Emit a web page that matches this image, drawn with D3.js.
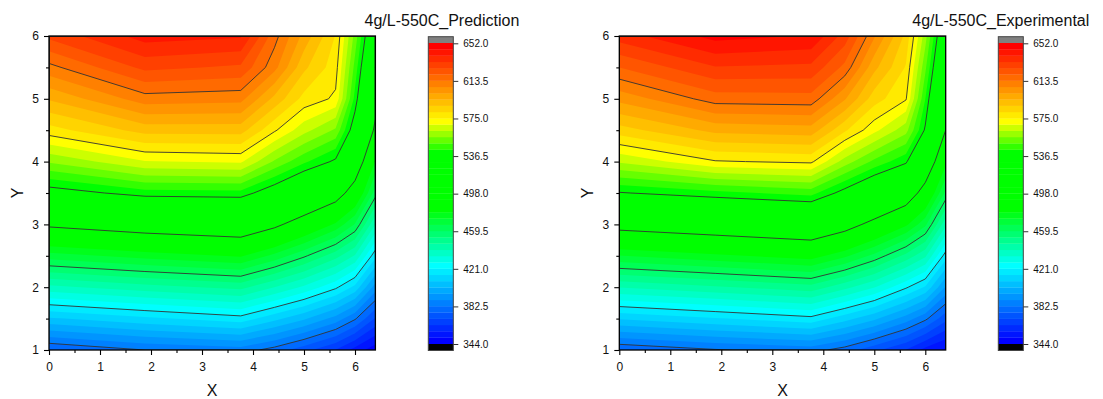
<!DOCTYPE html>
<html>
<head>
<meta charset="utf-8">
<script src="https://cdn.jsdelivr.net/npm/d3@7"></script>
<style>
  body { margin: 0; background: #fff; }
  text { font-family: "Liberation Sans", Arial, sans-serif; fill: #111; }
</style>
</head>
<body>
<svg id="chart" width="1103" height="399"></svg>
<script>
// grid nodes the values sit on
var xNodes = [0, 1.88, 3.76, 4.42, 5.0, 5.62, 6.0, 6.4];
var yNodes = [1, 1.5, 2, 2.5, 3, 3.5, 4, 4.5, 5, 5.5, 6];

// one row per yNode (Y=1 first), one value per xNode
var predRows = [
  [375.8, 382.5, 385.8, 379.7, 372.1, 363.0, 354.2, 346.5],
  [407.2, 413.1, 418.4, 410.3, 402.9, 392.8, 383.4, 369.0],
  [438.4, 444.0, 448.7, 440.2, 432.5, 422.4, 412.6, 392.2],
  [469.4, 475.0, 479.7, 470.4, 460.7, 449.3, 439.6, 416.6],
  [500.5, 506.8, 510.6, 501.4, 489.8, 477.4, 465.3, 440.3],
  [531.8, 539.9, 540.6, 529.9, 518.5, 506.1, 489.7, 462.4],
  [556.6, 568.2, 569.7, 554.9, 544.3, 534.8, 510.8, 478.4],
  [578.7, 590.4, 590.5, 576.0, 564.5, 554.6, 530.3, 494.5],
  [595.0, 610.6, 609.3, 592.4, 579.2, 573.8, 540.7, 504.2],
  [611.4, 628.1, 625.1, 609.3, 589.3, 577.8, 547.0, 512.1],
  [628.0, 642.0, 640.0, 616.0, 598.5, 581.0, 553.2, 520.0]
];
var expRows = [
  [376.7, 381.9, 385.2, 379.5, 371.4, 362.9, 354.5, 349.0],
  [408.8, 413.9, 419.0, 410.8, 403.2, 392.4, 384.1, 371.7],
  [440.6, 445.6, 450.7, 442.3, 434.2, 422.0, 413.7, 394.6],
  [472.1, 477.2, 482.2, 473.9, 463.9, 451.1, 441.5, 417.8],
  [503.8, 508.8, 513.8, 504.8, 493.1, 480.3, 467.4, 441.9],
  [535.9, 540.9, 545.3, 532.9, 521.9, 509.5, 490.5, 464.2],
  [563.1, 574.4, 576.3, 559.3, 547.7, 538.1, 513.0, 481.1],
  [585.0, 596.2, 597.8, 582.5, 570.5, 558.2, 535.2, 498.0],
  [602.8, 616.6, 617.3, 601.4, 584.4, 575.7, 543.0, 506.0],
  [619.9, 632.3, 631.2, 618.0, 596.1, 580.8, 550.8, 514.0],
  [636.0, 648.0, 645.0, 630.0, 607.8, 586.0, 558.5, 521.0]
];

var barTicks = [344.0, 382.5, 421.0, 459.5, 498.0, 536.5, 575.0, 613.5, 652.0];
var xTicks = [0, 1, 2, 3, 4, 5, 6];
var yTicks = [1, 2, 3, 4, 5, 6];
var titles = ["4g/L-550C_Prediction", "4g/L-550C_Experimental"];

var svg = d3.select("#chart");

// 6 fill levels between each pair of labelled levels
var step = (barTicks[1] - barTicks[0]) / 6;
var fillLevels = d3.range(48).map(function(k) { return barTicks[0] + k * step; });
var lineLevels = barTicks.slice(1, -1);

var color = d3.scaleLinear()
    .domain([fillLevels[0], fillLevels[12], fillLevels[21], fillLevels[30], fillLevels[35], fillLevels[47]])
    .range(["#0000ff", "#00ffff", "#00ff00", "#00ff00", "#ffff00", "#ff0000"])
    .clamp(true);

function drawPanel(left, barLeft, rows, title, idx) {
  var top = 36, bottom = 350;
  var x = d3.scaleLinear().domain([0, 6.4]).range([left, left + 6.4 * 51]),
      y = d3.scaleLinear().domain([1, 6]).range([bottom, top]);

  var nx = xNodes.length, ny = yNodes.length;
  var values = [].concat.apply([], rows);

  var ix = d3.scaleLinear().domain(d3.range(nx)).range(xNodes),
      iy = d3.scaleLinear().domain(d3.range(ny)).range(yNodes);
  function px(c) { return x(ix(Math.max(0, Math.min(nx - 1, c - 0.5)))); }
  function py(c) { return y(iy(Math.max(0, Math.min(ny - 1, c - 0.5)))); }
  var path = d3.geoPath(d3.geoTransform({
    point: function(a, b) { this.stream.point(px(a), py(b)); }
  }));

  svg.append("clipPath").attr("id", "clip" + idx)
    .append("rect")
      .attr("x", x(0)).attr("y", top)
      .attr("width", x(6.4) - x(0)).attr("height", bottom - top);

  var g = svg.append("g").attr("clip-path", "url(#clip" + idx + ")");

  var bands = d3.contours().size([nx, ny]).thresholds(fillLevels)(values);
  g.selectAll(".band")
    .data(bands)
    .enter().append("path")
      .attr("class", "band")
      .attr("d", path)
      .attr("fill", function(d) { return color(d.value); });

  var lines = d3.contours().size([nx, ny]).thresholds(lineLevels)(values);
  g.selectAll(".cline")
    .data(lines)
    .enter().append("path")
      .attr("class", "cline")
      .attr("d", path)
      .attr("fill", "none")
      .attr("stroke", "#333")
      .attr("stroke-width", 0.9);

  // axes
  var minorX = xTicks.slice(0, -1).map(function(v) { return v + 0.5; }),
      minorY = yTicks.slice(0, -1).map(function(v) { return v + 0.5; });

  var ax = svg.append("g")
      .attr("transform", "translate(0," + bottom + ")")
      .call(d3.axisBottom(x).tickValues(xTicks).tickSize(5).tickPadding(7).tickFormat(d3.format("d")));
  var axm = svg.append("g")
      .attr("transform", "translate(0," + bottom + ")")
      .call(d3.axisBottom(x).tickValues(minorX).tickSize(3).tickFormat(""));
  var ay = svg.append("g")
      .attr("transform", "translate(" + x(0) + ",0)")
      .call(d3.axisLeft(y).tickValues(yTicks).tickSize(5).tickPadding(5).tickFormat(d3.format("d")));
  var aym = svg.append("g")
      .attr("transform", "translate(" + x(0) + ",0)")
      .call(d3.axisLeft(y).tickValues(minorY).tickSize(3).tickFormat(""));
  [ax, axm, ay, aym].forEach(function(a) {
    a.select(".domain").remove();
    a.selectAll("line").attr("stroke", "#000").attr("stroke-width", 1.1);
    a.selectAll("text").attr("font-size", 12).attr("fill", "#111")
      .attr("font-family", "Liberation Sans, Arial, sans-serif");
  });

  svg.append("rect")
      .attr("x", x(0)).attr("y", top)
      .attr("width", x(6.4) - x(0)).attr("height", bottom - top)
      .attr("fill", "none")
      .attr("stroke", "#000")
      .attr("stroke-width", 1.3);

  svg.append("text")
      .attr("x", (x(0) + x(6.4)) / 2)
      .attr("y", 396)
      .attr("text-anchor", "middle")
      .attr("font-size", 16)
      .text("X");
  svg.append("text")
      .attr("transform", "translate(" + (x(0) - 26) + "," + ((top + bottom) / 2) + ") rotate(-90)")
      .attr("text-anchor", "middle")
      .attr("font-size", 16)
      .text("Y");

  svg.append("text")
      .attr("x", barLeft + 91)
      .attr("y", 26)
      .attr("text-anchor", "end")
      .attr("font-size", 16)
      .text(title);

  // colour bar
  var cb = d3.scaleLinear().domain([barTicks[0], barTicks[barTicks.length - 1]]).range([344, 43.3]);
  var bw = 25;
  svg.append("rect")
      .attr("x", barLeft).attr("y", 36.7)
      .attr("width", bw).attr("height", cb(652) - 36.7)
      .attr("fill", "#808080");
  svg.append("rect")
      .attr("x", barLeft).attr("y", cb(344))
      .attr("width", bw).attr("height", 6.5)
      .attr("fill", "#000");
  svg.selectAll(".cb" + idx)
    .data(fillLevels)
    .enter().append("rect")
      .attr("class", "cb" + idx)
      .attr("x", barLeft)
      .attr("y", function(d) { return cb(d + step) - 0.3; })
      .attr("width", bw)
      .attr("height", function(d) { return cb(d) - cb(d + step) + 0.3; })
      .attr("fill", function(d) { return color(d); });
  svg.append("rect")
      .attr("x", barLeft).attr("y", 36.7)
      .attr("width", bw).attr("height", cb(344) + 6.5 - 36.7)
      .attr("fill", "none")
      .attr("stroke", "#444")
      .attr("stroke-width", 1);

  var ac = svg.append("g")
      .attr("transform", "translate(" + (barLeft + bw) + ",0)")
      .call(d3.axisRight(cb).tickValues(barTicks).tickSize(5).tickPadding(5).tickFormat(d3.format(".1f")));
  ac.select(".domain").remove();
  ac.selectAll("line").attr("stroke", "#333");
  ac.selectAll("text").attr("font-size", 10).attr("fill", "#111")
    .attr("font-family", "Liberation Sans, Arial, sans-serif");
}

drawPanel(49, 428.3, predRows, titles[0], 0);
drawPanel(619.3, 998.3, expRows, titles[1], 1);
</script>
</body>
</html>
